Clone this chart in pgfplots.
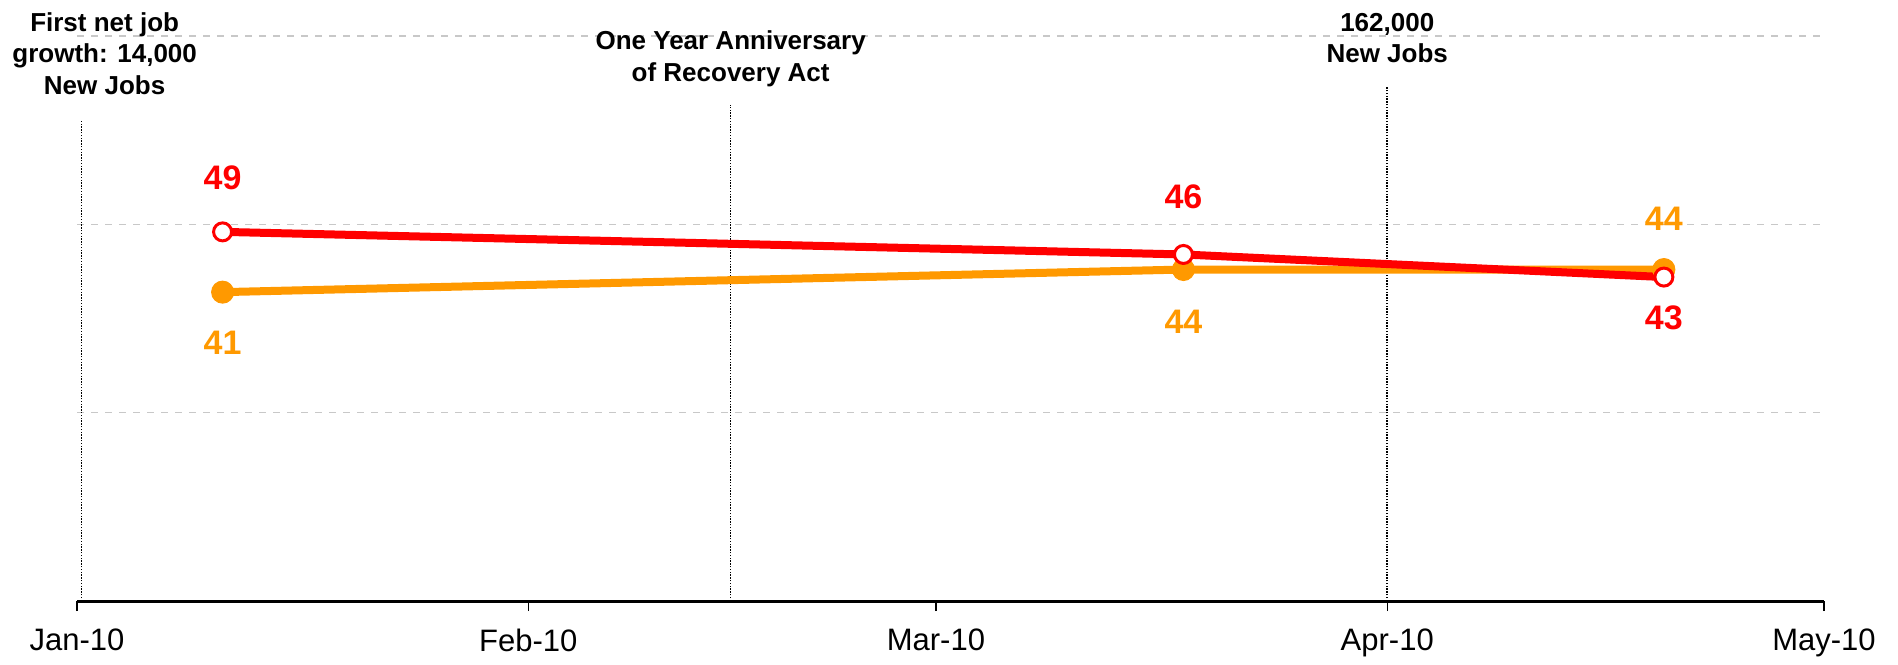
\documentclass[border=0pt]{standalone}
\usepackage{pgfplots}
\pgfplotsset{compat=1.18}
\usepackage{fontspec}
\setmainfont{Liberation Sans}
\definecolor{myred}{RGB}{255,0,0}
\definecolor{myorange}{RGB}{255,153,0}
\definecolor{gridgray}{RGB}{200,200,200}
\begin{document}
\begin{tikzpicture}
\useasboundingbox (-38.5pt,-31.5pt) rectangle (910.5pt,300.5pt);
\begin{axis}[
 at={(0,0)}, anchor=south west,
 scale only axis, width=873.5pt, height=282.5pt,
 xmin=0, xmax=120, ymin=0, ymax=75,
 clip=false,
 axis lines*=left,
 x axis line style={-, line width=1.5pt},
 y axis line style={draw=none},
 xtick={0,31,59,90,120},
 xticklabels={Jan-10,Feb-10,Mar-10,Apr-10,May-10},
 tick align=outside,
 xtick style={black, line width=0.6pt},
 major tick length=5pt,
 ytick={25,50,75},
 yticklabels={},
 ytick style={draw=none},
 ymajorgrids,
 grid style={gridgray, line width=0.6pt, dash pattern=on 3.5pt off 3.5pt},
 xticklabel style={font=\fontsize{15.5pt}{18pt}\selectfont, anchor=north, yshift=-5.3pt},
]
% event lines
\addplot[black, line width=0.8pt, dash pattern=on 0.7pt off 0.7pt, forget plot] coordinates {(0.3,0) (0.3,63.7)};
\addplot[black, line width=0.8pt, dash pattern=on 0.7pt off 0.7pt, forget plot] coordinates {(44.9,0) (44.9,65.9)};
\addplot[black, line width=0.8pt, dash pattern=on 0.7pt off 0.7pt, forget plot] coordinates {(90,0) (90,68.3)};

\node[anchor=north, inner sep=0pt, align=center, font=\bfseries\fontsize{13pt}{15.75pt}\selectfont] at (axis cs:1.9,78.2) {First net job\\growth: 14,000\\New Jobs};
\node[anchor=north, inner sep=0pt, align=center, font=\bfseries\fontsize{13pt}{16pt}\selectfont] at (axis cs:44.9,75.7) {One Year Anniversary\\of Recovery Act};
\node[anchor=north, inner sep=0pt, align=center, font=\bfseries\fontsize{13pt}{15.5pt}\selectfont] at (axis cs:90,78.0) {162,000\\New Jobs};

% orange series
\addplot[myorange, line width=4pt, mark=*, mark size=5.5pt,
  mark options={fill=myorange, draw=myorange, line width=0.5pt},
  nodes near coords, point meta=explicit symbolic,
  visualization depends on={value \thisrow{off} \as \off},
  every node near coord/.append style={anchor=center, yshift=\off pt, text=myorange, font=\bfseries\fontsize{17pt}{20pt}\selectfont}]
  table[meta=lab] {
x y lab off
10 41 41 -25.5
76 44 44 -26
109 44 44 25.5
};
% red series
\addplot[myred, line width=4pt, mark=*, mark size=4.5pt,
  mark options={fill=white, draw=myred, line width=1.5pt},
  nodes near coords, point meta=explicit symbolic,
  visualization depends on={value \thisrow{off} \as \off},
  every node near coord/.append style={anchor=center, yshift=\off pt, text=myred, font=\bfseries\fontsize{17pt}{20pt}\selectfont}]
  table[meta=lab] {
x y lab off
10 49 49 27
76 46 46 29
109 43 43 -20.5
};
\end{axis}
\end{tikzpicture}
\end{document}
